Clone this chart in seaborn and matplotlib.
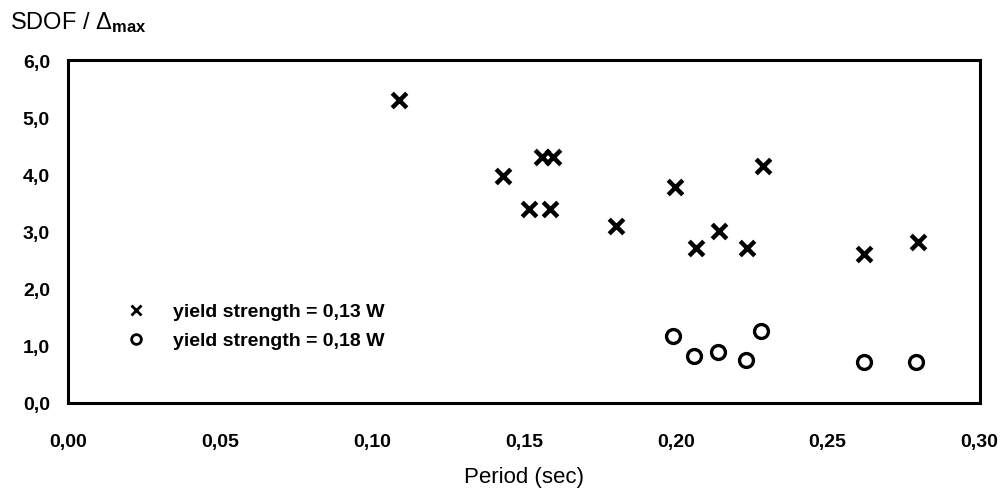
import matplotlib
matplotlib.use("Agg")
import matplotlib.pyplot as plt
import seaborn as sns
import pandas as pd
from matplotlib.lines import Line2D

# Data
period_013 = [0.109, 0.143, 0.156, 0.1596, 0.1517, 0.1586, 0.1805, 0.1997,
              0.2286, 0.2142, 0.2066, 0.2233, 0.262, 0.2796]
ratio_013 = [5.30, 3.97, 4.30, 4.30, 3.39, 3.39, 3.10, 3.78,
             4.15, 3.01, 2.71, 2.71, 2.60, 2.81]
period_018 = [0.199, 0.206, 0.2138, 0.223, 0.228, 0.262, 0.279]
ratio_018 = [1.17, 0.82, 0.89, 0.75, 1.26, 0.72, 0.72]

x_ticks = [0.00, 0.05, 0.10, 0.15, 0.20, 0.25, 0.30]
x_tick_labels = ["0,00", "0,05", "0,10", "0,15", "0,20", "0,25", "0,30"]
y_ticks = [0.0, 1.0, 2.0, 3.0, 4.0, 5.0, 6.0]
y_tick_labels = ["0,0", "1,0", "2,0", "3,0", "4,0", "5,0", "6,0"]
legend_labels = ["yield strength = 0,13 W", "yield strength = 0,18 W"]

sns.set_theme(style="white")
plt.rcParams["font.family"] = ["Liberation Sans", "DejaVu Sans"]
plt.rcParams["text.color"] = "black"
plt.rcParams["axes.labelcolor"] = "black"
plt.rcParams["mathtext.fontset"] = "custom"
plt.rcParams["mathtext.rm"] = "Liberation Sans"
plt.rcParams["mathtext.bf"] = "Liberation Sans:bold"
plt.rcParams["mathtext.it"] = "Liberation Sans:italic"

fig = plt.figure(figsize=(10.05, 4.89), dpi=100)
ax = fig.add_axes([0.0677, 0.174, 0.907, 0.701])

df1 = pd.DataFrame({"period": period_013, "ratio": ratio_013})
df2 = pd.DataFrame({"period": period_018, "ratio": ratio_018})

sns.scatterplot(data=df1, x="period", y="ratio", ax=ax, marker="x", s=110,
                color="black", linewidth=3.2, legend=False)
sns.scatterplot(data=df2, x="period", y="ratio", ax=ax, marker="o", s=100,
                facecolor="white", edgecolor="black", linewidth=2.4, legend=False)

ax.set_xlim(0, 0.30)
ax.set_ylim(0, 6.0)
ax.set_xticks(x_ticks)
ax.set_xticklabels(x_tick_labels)
ax.set_yticks(y_ticks)
ax.set_yticklabels(y_tick_labels)
ax.tick_params(axis="x", direction="inout", length=9, width=1, colors="black",
               labelsize=14, pad=17)
ax.tick_params(axis="y", direction="out", length=6, width=1, colors="black",
               labelsize=14, pad=7)
for lab in ax.get_xticklabels() + ax.get_yticklabels():
    lab.set_fontweight("bold")

for sp in ax.spines.values():
    sp.set_visible(True)
    sp.set_color("black")
    sp.set_linewidth(2.2)

ax.set_xlabel("Period (sec)", fontsize=16, color="black", labelpad=12)
ax.set_ylabel("")
fig.text(0.01, 0.953, r"SDOF / $\Delta_{\mathbf{max}}$", fontsize=17,
         ha="left", va="center", color="black")

handles = [
    Line2D([], [], linestyle="none", marker="x", markersize=7, markeredgewidth=2,
           color="black"),
    Line2D([], [], linestyle="none", marker="o", markersize=7, markeredgewidth=2,
           markerfacecolor="white", markeredgecolor="black"),
]
leg = ax.legend(handles, legend_labels, loc="center left",
                bbox_to_anchor=(0.045, 0.224), frameon=False,
                prop={"size": 14, "weight": "bold"}, handletextpad=1.4,
                labelspacing=0.58, handlelength=1.0, labelcolor="black")

fig.savefig("out.png", dpi=100, facecolor="white")
